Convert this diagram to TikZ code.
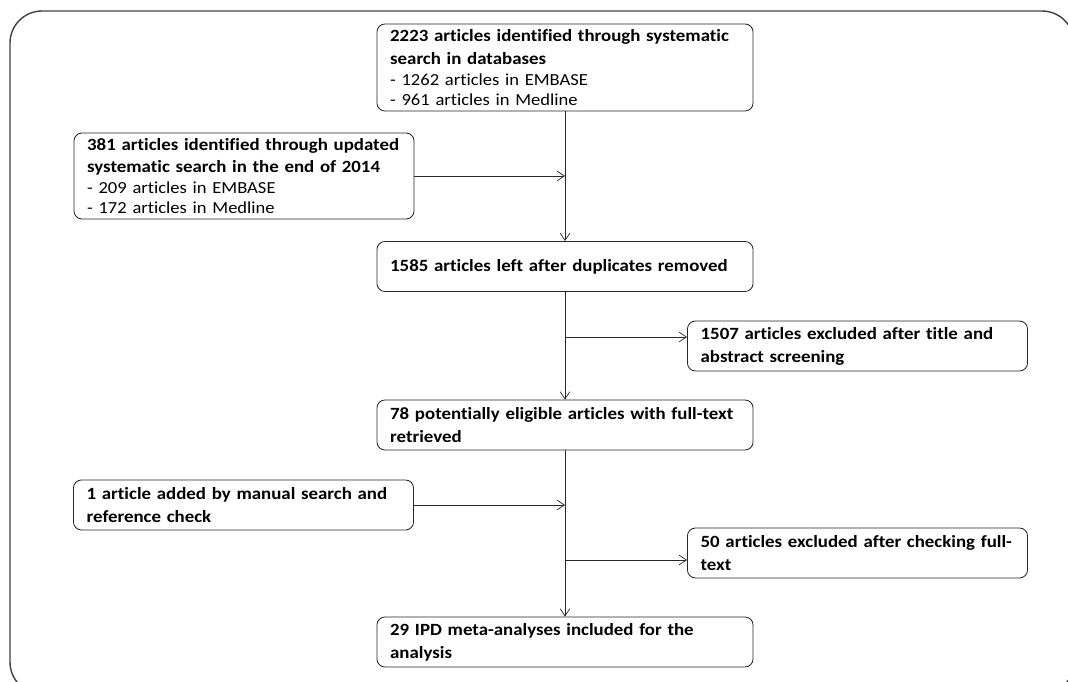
\documentclass[tikz,border=0pt]{standalone}
\usepackage{fontspec}
\setmainfont{Carlito}[FakeStretch=1.1, Ligatures=NoCommon]
\usepackage{tikz}
\usetikzlibrary{arrows.meta}
\tikzstyle{line} = [draw, black!85, line width=0.5pt, -{Straight Barb[length=1.8mm,width=2.4mm]}]
\tikzstyle{block}=[draw, rectangle, rounded corners=0.2cm, black!85, text=black, line width=0.6pt, align=left, inner xsep=0.33cm, inner ysep=0pt, minimum height=1.25cm, font=\fontsize{12.2}{16.3}\selectfont\bfseries]
\tikzstyle{wide}=[block, text width=8.74cm]
\tikzstyle{side}=[block, text width=7.84cm]
\newcommand{\subline}[1]{{\normalfont\fontsize{12}{14}\selectfont #1}}

\begin{document}
\begin{tikzpicture}[x=0.025cm, y=-0.025cm]
		\clip (0,0) rectangle (1068,682);
		\draw[black!75, line width=1pt, rounded corners=0.8cm] (10,11) rectangle (1074,694);
		\node[wide, minimum height=2.175cm] (S) at (565,67.5) {2223 articles identified through systematic\\ search in databases\\[-1.5pt] \subline{- 1262 articles in EMBASE}\\[-2pt] \subline{- 961 articles in Medline}};
		\node[side, minimum height=2.15cm] (U) at (244,176) {381 articles identified through updated\\ systematic search in the end of 2014\\[-1.5pt] \subline{- 209 articles in EMBASE}\\[-2pt] \subline{- 172 articles in Medline}};
		\node[wide] (D) at (565,266.5) {1585 articles left after duplicates removed};
		\node[side] (T) at (857.5,346) {1507 articles excluded after title and\\ abstract screening};
		\node[wide] (F) at (565,425) {78 potentially eligible articles with full-text\\ retrieved};
		\node[side] (M) at (243.5,505) {1 article added by manual search and\\ reference check};
		\node[side] (X) at (857.5,553) {50 articles excluded after checking full-\\ text};
		\node[wide] (I) at (565,642) {29 IPD meta-analyses included for the\\ analysis};
		\coordinate (t) at (565,337);
		\coordinate (x) at (565,560);
		\draw[line] (S) -- (D);
		\draw[line] (U.east) -- (U.east -| S);
		\draw[line] (D) -- (F);
		\draw[line] (t) -- (t -| T.west);
		\draw[line] (F) -- (I);
		\draw[line] (M.east) -- (M.east -| F);
		\draw[line] (x) -- (x -| X.west);
	\end{tikzpicture}
\end{document}
